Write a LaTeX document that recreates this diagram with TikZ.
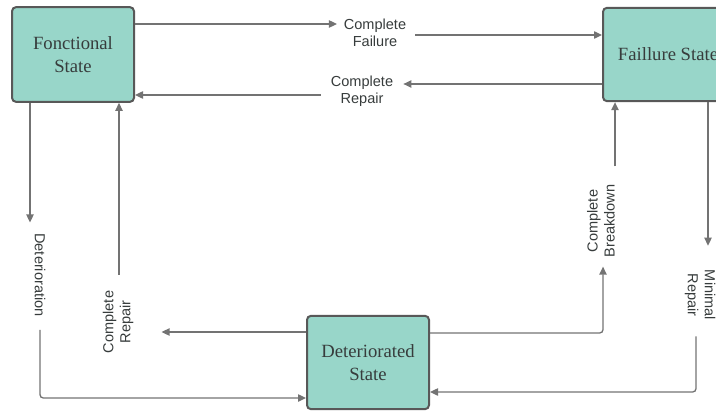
\documentclass[tikz,border=0pt]{standalone}
\usepackage{fontspec}
\setmainfont{Liberation Serif}
\setsansfont{Liberation Sans}
\usetikzlibrary{arrows.meta}
\definecolor{boxfill}{RGB}{152,214,201}
\definecolor{boxline}{RGB}{88,88,88}
\definecolor{arrline}{RGB}{115,115,115}
\definecolor{txtgray}{RGB}{55,60,60}

\begin{document}
\begin{tikzpicture}[x=0.75pt,y=0.75pt,yscale=-1,xscale=1,
  state/.style={draw=boxline,fill=boxfill,line width=1.5pt,rounded corners=3pt,align=center,text=txtgray,font=\fontsize{14}{17}\selectfont,inner sep=0pt},
  lbl/.style={align=center,text=txtgray,font=\sffamily\fontsize{10.9}{12.75}\selectfont,inner sep=0pt},
  conn/.style={draw=arrline,line width=1pt,rounded corners=2.5pt},
  arr/.style={conn,-{Triangle[length=6pt,width=5.5pt]}}]
\clip (0,0) rectangle (716,410);

% States
\node [state,minimum width=91.5pt,minimum height=71pt] (fs) at (73,54.5) {Fonctional\\State};
\node [state,minimum width=97.5pt,minimum height=70pt] (ff) at (668,54.5) {Faillure State};
\node [state,minimum width=91.5pt,minimum height=70pt] (ds) at (368,362.5) {Deteriorated\\State};

% Labels
\node [lbl] (cf) at (375,33) {Complete\\Failure};
\node [lbl] (cr1) at (362,91) {Complete\\Repair};
\node [lbl,rotate=-90] (det) at (40,275) {Deterioration};
\node [lbl,rotate=90] (cr2) at (118,322) {Complete\\Repair};
\node [lbl,rotate=90] (cb) at (601,221) {Complete\\Breakdown};
\node [lbl,rotate=-90] (mr) at (700,295) {Minimal\\Repair};

% Fonctional <-> Failure
\draw [arr,shorten >=5pt] (fs.east |- 0,24) -- (cf.west |- 0,24);
\draw [arr,shorten <=6.5pt] (cf.east |- 0,35) -- (ff.west |- 0,35);
\draw [arr,shorten >=7.5pt] (ff.west |- 0,84) -- (cr1.east |- 0,84);
\draw [arr,shorten <=7.5pt] (cr1.west |- 0,95) -- (fs.east |- 0,95);

% Fonctional <-> Deteriorated
\draw [arr,shorten >=8pt] (fs.south -| 30,0) -- (det.west -| 30,0);
\draw [arr,shorten <=9.75pt] (det.east) |- (ds.west |- 0,398);
\draw [arr,shorten >=21pt] (ds.west |- 0,332) -- (cr2.south |- 0,332);
\draw [arr,shorten <=12pt] (cr2.east -| 119,0) -- (fs.south -| 119,0);

% Deteriorated <-> Failure
\draw [arr,shorten >=6.75pt] (ds.east |- 0,333) -| (cb.west -| 603,0);
\draw [arr,shorten <=13.5pt] (cb.east -| 615,0) -- (ff.south -| 615,0);
\draw [arr,shorten >=18pt] (ff.south -| 708,0) -- (mr.west -| 708,0);
\draw [arr,shorten <=12pt] (mr.east -| 696,0) |- (ds.east |- 0,392);

\end{tikzpicture}
\end{document}
